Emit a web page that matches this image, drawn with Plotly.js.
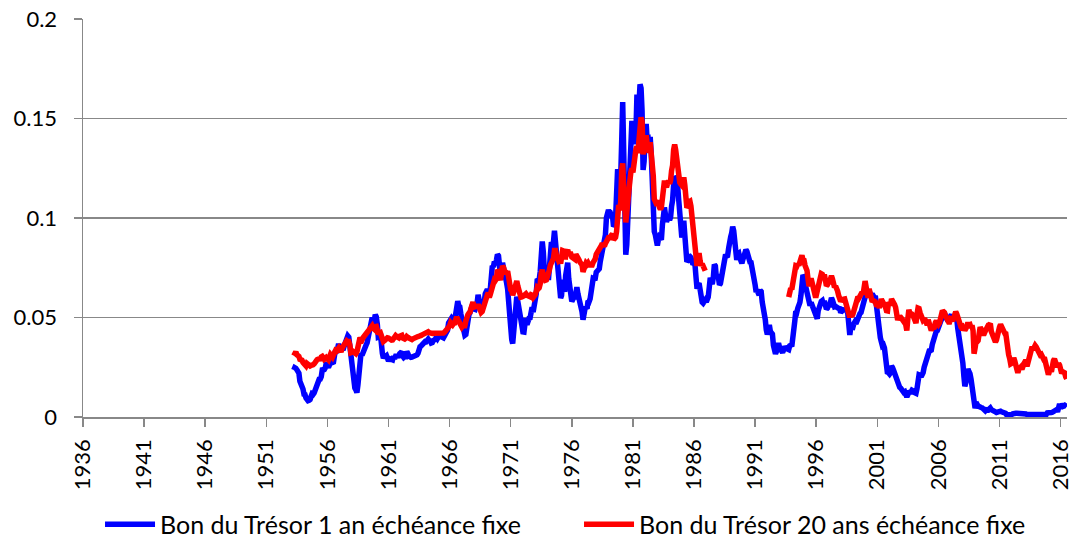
<!DOCTYPE html>
<html><head><meta charset="utf-8">
<script src="https://cdn.plot.ly/plotly-3.0.1.min.js"></script>
<style>html,body{margin:0;padding:0;background:#fff}#chart{width:1073px;height:538px}</style>
</head><body><div id="chart"></div>
<script>
// Series names (legend)
const seriesNames = ['Bon du Trésor 1 an échéance fixe', 'Bon du Trésor 20 ans échéance fixe'];
// Monthly rates in percent; first month given by the start arrays [year, month]
const start1an = [1953, 4];
const bon1an = [
2.36,2.48,2.45,2.38,2.28,2.20,1.79,1.67,1.66,
1.41,1.14,1.13,0.96,0.85,0.82,0.84,0.88,1.03,1.17,1.14,1.21,
1.39,1.57,1.59,1.75,1.90,1.91,2.02,2.37,2.36,2.39,2.48,2.73,
2.58,2.49,2.61,2.92,2.94,2.74,2.76,3.10,3.35,3.28,3.44,3.68,
3.37,3.38,3.42,3.49,3.48,3.65,3.81,4.01,4.07,4.01,3.57,3.18,
2.65,1.99,1.84,1.45,1.37,1.23,1.61,2.50,3.05,3.19,3.10,3.29,
3.36,3.54,3.61,3.72,3.96,4.07,4.39,4.42,5.00,4.80,4.81,5.14,
5.03,4.66,4.02,4.04,4.21,3.36,3.20,2.95,3.07,3.04,3.08,2.86,
2.81,2.93,2.88,2.88,2.87,3.06,2.92,3.06,3.06,3.05,3.07,3.18,
3.28,3.28,3.06,2.99,3.03,3.03,3.29,3.20,3.06,2.98,3.00,3.01,
3.04,3.01,3.03,3.11,3.12,3.20,3.48,3.53,3.57,3.64,3.74,3.81,
3.79,3.78,3.91,3.91,3.84,3.83,3.72,3.74,3.84,3.86,3.91,4.02,
3.94,4.03,4.06,4.04,4.03,3.99,3.98,4.07,4.20,4.30,4.37,4.72,
4.88,4.94,4.97,4.90,4.93,4.97,5.17,5.54,5.82,5.58,5.54,5.20,
4.75,4.71,4.35,4.11,4.15,4.48,5.01,5.13,5.24,5.37,5.61,5.71,
5.43,5.41,5.58,5.71,6.14,5.98,5.65,5.43,5.45,5.57,5.75,6.19,
6.34,6.41,6.34,6.26,6.42,7.04,7.60,7.54,7.82,7.64,7.89,8.17,
8.10,7.59,6.97,7.06,7.75,7.55,7.10,6.98,6.73,6.43,5.51,5.00,
4.57,3.89,3.69,4.30,5.04,5.64,6.04,5.80,5.41,4.91,4.67,4.60,
4.28,4.27,4.67,4.96,4.64,4.93,4.96,4.98,5.52,5.52,5.27,5.52,
5.89,6.19,6.85,6.85,6.89,7.31,8.39,8.82,8.31,7.40,7.57,7.27,
7.42,6.88,7.76,8.62,8.78,8.67,8.80,9.36,8.87,8.05,7.66,7.31,
6.83,5.98,6.11,6.90,6.39,6.29,7.11,7.70,7.75,6.95,6.49,6.60,
5.81,5.91,6.21,5.92,6.40,6.52,6.20,6.00,5.84,5.50,5.29,4.89,
5.29,5.47,5.50,5.44,5.84,5.80,5.94,6.37,6.53,6.97,6.95,6.96,
7.28,7.34,7.31,7.45,7.82,8.09,8.39,8.31,8.64,9.14,10.01,10.30,
10.41,10.24,10.25,10.12,10.12,9.57,9.64,9.98,10.84,12.44,12.39,11.98,
12.06,13.92,15.82,13.30,9.39,8.16,8.65,10.24,11.52,12.49,14.15,14.88,
14.08,14.57,13.71,14.32,16.20,14.86,15.72,16.72,16.52,15.38,12.41,12.85,
14.32,14.73,13.95,13.98,13.34,14.07,13.24,11.43,10.85,9.32,9.16,8.91,
8.62,8.92,9.04,8.98,8.90,9.66,10.20,10.53,10.16,9.81,9.94,10.11,
9.90,10.04,10.59,10.90,11.66,12.08,12.03,11.82,11.58,10.90,9.82,9.33,
9.02,9.29,9.86,9.14,8.46,7.80,7.86,8.05,8.07,8.01,7.88,7.67,
7.73,7.61,7.03,6.44,6.65,6.73,6.27,5.93,5.77,5.72,5.80,5.87,
5.78,5.96,6.03,6.50,7.00,6.80,6.68,7.03,7.67,7.59,6.96,7.17,
6.99,6.64,6.71,7.01,7.40,7.49,7.75,8.17,8.09,8.11,8.48,8.99,
9.05,9.25,9.57,9.36,8.98,8.44,7.89,8.18,8.22,7.99,7.77,7.72,
7.92,8.11,8.35,8.40,8.32,8.10,7.94,7.78,7.76,7.55,7.31,7.05,
6.64,6.27,6.40,6.24,6.13,6.36,6.31,5.78,5.57,5.33,4.89,4.38,
4.15,4.29,4.63,4.30,4.19,4.17,3.60,3.47,3.18,3.30,3.68,3.71,
3.50,3.39,3.33,3.24,3.36,3.54,3.47,3.44,3.36,3.39,3.58,3.61,
3.54,3.87,4.32,4.82,5.31,5.27,5.48,5.56,5.76,6.11,6.54,7.14,
7.05,6.70,6.43,6.27,6.00,5.64,5.59,5.75,5.62,5.59,5.43,5.31,
5.09,4.94,5.34,5.54,5.64,5.81,5.85,5.67,5.83,5.55,5.42,5.47,
5.61,5.53,5.80,5.99,5.87,5.69,5.54,5.56,5.52,5.46,5.46,5.53,
5.24,5.31,5.39,5.38,5.44,5.41,5.36,5.21,4.71,4.12,4.53,4.52,
4.51,4.70,4.78,4.69,4.85,5.10,5.03,5.20,5.25,5.43,5.55,5.84,
6.12,6.22,6.22,6.15,6.33,6.17,6.08,6.18,6.13,6.01,6.09,5.60,
4.81,4.68,4.30,3.98,3.78,3.58,3.62,3.47,2.82,2.33,2.18,2.22,
2.16,2.23,2.57,2.48,2.35,2.20,1.96,1.76,1.72,1.65,1.49,1.45,
1.36,1.30,1.24,1.27,1.18,1.01,1.12,1.31,1.24,1.25,1.34,1.31,
1.24,1.24,1.19,1.43,1.78,2.12,2.10,2.02,2.12,2.23,2.50,2.67,
2.86,3.03,3.30,3.32,3.33,3.36,3.64,3.87,3.85,4.18,4.33,4.35,
4.45,4.68,4.77,4.90,5.00,5.16,5.22,5.08,4.97,5.01,5.01,4.94,
5.06,5.05,4.92,4.93,4.91,4.96,4.96,4.47,4.14,4.10,3.50,3.26,
2.71,2.05,1.54,1.74,2.06,2.42,2.28,2.18,1.91,1.42,1.07,0.49,
0.44,0.62,0.64,0.55,0.50,0.51,0.48,0.46,0.40,0.37,0.31,0.37,
0.35,0.35,0.40,0.45,0.37,0.32,0.29,0.26,0.26,0.23,0.25,0.29,
0.27,0.29,0.26,0.25,0.19,0.18,0.19,0.11,0.10,0.11,0.11,0.12,
0.12,0.16,0.19,0.18,0.19,0.19,0.19,0.18,0.18,0.18,0.18,0.16,
0.15,0.16,0.15,0.12,0.12,0.14,0.12,0.13,0.12,0.12,0.12,0.13,
0.12,0.12,0.13,0.11,0.10,0.10,0.11,0.11,0.11,0.10,0.13,0.21,
0.20,0.22,0.25,0.23,0.24,0.28,0.30,0.38,0.37,0.26,0.48,0.65,
0.54,0.53,0.66,0.56,0.59,0.55,0.51
];
// 20-year series: first segment (1953-04 .. 1986-12), second segment (1993-10 .. 2016-07)
const start20a = [1953, 4];
const bon20a = [
3.08,3.18,3.27,3.13,3.11,3.05,2.90,2.91,2.86,
2.74,2.64,2.62,2.57,2.69,2.64,2.54,2.57,2.60,2.60,2.63,2.67,
2.80,2.87,2.88,2.91,2.89,2.92,3.02,3.05,2.98,2.89,2.92,2.98,
2.92,2.87,3.00,3.14,3.08,3.01,3.12,3.30,3.35,3.32,3.44,3.46,
3.35,3.36,3.36,3.51,3.60,3.76,3.83,3.83,3.79,3.79,3.63,3.23,
3.25,3.30,3.26,3.14,3.18,3.27,3.49,3.83,3.99,3.91,3.87,3.98,
4.05,4.06,4.09,4.19,4.23,4.31,4.35,4.43,4.58,4.47,4.42,4.54,
4.55,4.36,4.16,4.22,4.24,4.08,3.91,3.79,3.83,3.90,3.94,3.98,
3.97,3.91,3.87,3.86,3.87,3.97,4.03,4.09,4.04,4.01,3.98,4.06,
4.12,4.10,3.97,3.90,3.92,3.96,4.04,4.00,3.97,3.94,3.91,3.89,
3.93,3.97,3.99,4.02,4.03,4.04,4.06,4.06,4.10,4.13,4.16,4.19,
4.22,4.21,4.26,4.28,4.24,4.21,4.20,4.20,4.21,4.21,4.19,4.21,
4.20,4.19,4.20,4.20,4.21,4.22,4.22,4.26,4.31,4.35,4.42,4.53,
4.58,4.74,4.67,4.63,4.70,4.72,4.89,5.02,4.91,4.78,4.73,4.63,
4.52,4.59,4.55,4.59,4.83,5.08,5.14,5.22,5.26,5.45,5.68,5.78,
5.52,5.46,5.64,5.52,5.66,5.51,5.33,5.25,5.30,5.47,5.66,5.99,
6.06,6.13,6.24,6.02,6.16,6.34,6.42,6.53,6.90,6.86,6.94,7.40,
7.31,7.01,6.88,7.22,7.60,7.51,7.33,7.28,7.25,7.33,6.88,6.59,
6.39,6.33,6.12,6.29,6.50,6.69,6.83,6.58,6.28,6.08,6.02,6.03,
6.04,6.09,6.14,6.19,6.12,6.10,6.07,6.05,6.14,6.12,6.01,6.04,
6.15,6.30,6.49,6.44,6.49,6.70,7.21,7.40,7.12,6.86,6.87,6.89,
7.05,7.05,7.38,7.63,7.79,7.81,7.96,8.37,8.37,8.10,7.97,7.85,
7.90,7.71,8.02,8.36,8.34,8.06,8.05,8.30,8.40,8.21,8.21,8.20,
8.04,8.01,7.98,7.93,8.18,8.11,8.03,7.90,7.78,7.70,7.64,7.30,
7.48,7.64,7.73,7.67,7.74,7.64,7.64,7.68,7.64,7.77,7.85,7.94,
8.18,8.25,8.30,8.37,8.50,8.61,8.72,8.57,8.57,8.72,8.82,8.98,
9.01,9.01,9.10,9.19,9.20,8.90,8.95,9.03,9.33,10.30,10.65,10.39,
10.80,12.41,12.75,11.47,10.18,9.78,10.25,11.10,11.60,11.86,12.31,12.49,
12.29,12.98,12.94,13.46,13.60,13.26,13.92,14.52,15.06,14.86,13.20,13.54,
14.07,14.16,13.73,13.46,13.28,13.81,13.36,12.60,12.13,10.95,10.72,10.72,
10.73,10.88,10.55,10.44,10.53,11.02,11.46,11.88,11.67,11.54,11.73,11.87,
11.72,11.89,12.38,12.65,13.43,13.69,13.43,12.81,12.55,12.30,11.78,11.70,
11.64,11.75,12.04,11.65,11.09,10.51,10.60,10.81,10.84,10.59,10.08,9.60,
9.51,9.07,8.13,7.59,8.02,8.23,7.86,7.60,7.70,7.60,7.45,7.35
];
const start20b = [1993, 10];
const bon20b = [
6.02,6.44,6.48,
6.41,6.71,7.17,7.44,7.60,7.58,7.70,7.62,7.80,8.05,8.12,7.90,
7.88,7.62,7.48,7.36,6.94,6.58,6.71,6.97,6.71,6.48,6.31,6.11,
6.11,6.38,6.74,6.93,7.07,7.20,7.17,6.99,7.16,6.89,6.59,6.64,
6.82,6.69,6.93,7.09,6.94,6.77,6.51,6.58,6.50,6.33,6.11,5.99,
5.81,5.89,5.95,5.92,5.93,5.70,5.68,5.54,5.20,5.01,5.25,5.06,
5.16,5.37,5.58,5.55,5.81,6.04,5.98,6.07,6.07,6.26,6.15,6.35,
6.83,6.53,6.26,5.99,6.44,6.10,5.99,5.79,5.85,5.83,5.79,5.64,
5.65,5.62,5.49,5.78,5.92,5.82,5.75,5.58,5.53,5.34,5.33,5.76,
5.69,5.61,5.93,5.85,5.81,5.65,5.51,5.19,4.87,5.00,5.04,5.01,
4.94,4.81,4.80,4.91,4.52,4.34,4.92,5.39,5.21,5.21,5.17,5.11,
5.01,4.94,4.72,5.16,5.47,5.45,5.24,5.07,4.89,4.85,4.89,4.88,
4.77,4.61,4.89,4.75,4.56,4.35,4.48,4.53,4.51,4.74,4.83,4.73,
4.65,4.73,4.91,5.22,5.35,5.29,5.25,5.08,4.93,4.94,4.78,4.78,
4.95,4.93,4.81,4.95,4.98,5.29,5.19,5.00,4.84,4.83,4.56,4.57,
4.35,4.49,4.36,4.44,4.60,4.74,4.62,4.64,4.49,4.61,4.34,3.18,
3.46,3.83,3.78,3.84,4.22,4.52,4.41,4.37,4.19,4.19,4.31,4.49,
4.60,4.62,4.64,4.69,4.29,4.13,3.99,3.80,3.77,3.87,4.19,4.42,
4.52,4.65,4.51,4.50,4.29,4.23,4.27,3.65,3.18,3.13,2.94,2.67,
2.70,2.75,2.97,2.81,2.55,2.33,2.22,2.40,2.49,2.51,2.39,2.47,
2.68,2.78,2.78,2.55,2.73,3.07,3.31,3.49,3.53,3.38,3.50,3.59,
3.52,3.38,3.35,3.27,3.12,3.15,3.07,2.94,2.99,2.76,2.76,2.47,
2.13,2.28,2.37,2.27,2.71,2.83,2.92,2.65,2.62,2.52,2.69,2.61,
2.49,2.20,2.28,2.21,2.22,2.02,1.92
];

function monthDates(start, n) {
  const out = [];
  const base = start[0] * 12 + (start[1] - 1);
  for (let i = 0; i < n; i++) {
    const t = base + i;
    const yy = Math.floor(t / 12), mm = (t % 12) + 1;
    out.push(yy + '-' + String(mm).padStart(2, '0') + '-01');
  }
  return out;
}
const pct = v => (v === null ? null : v / 100);

const x1 = monthDates(start1an, bon1an.length);
const xa = monthDates(start20a, bon20a.length);
const xb = monthDates(start20b, bon20b.length);
const x20 = xa.concat(['1987-01-01'], xb);
const y20 = bon20a.map(pct).concat([null], bon20b.map(pct));

const traces = [
  {x: x1, y: bon1an.map(pct), name: seriesNames[0], type: 'scatter', mode: 'lines',
   line: {color: '#0000FF', width: 5.5}},
  {x: x20, y: y20, name: seriesNames[1], type: 'scatter', mode: 'lines', connectgaps: false,
   line: {color: '#FF0000', width: 5.5}}
];

const layout = {
  width: 1073, height: 538,
  margin: {l: 83, r: 6, t: 19, b: 121, autoexpand: false},
  paper_bgcolor: '#ffffff', plot_bgcolor: '#ffffff',
  font: {family: 'Lato, sans-serif', size: 22, color: '#000000'},
  showlegend: true,
  legend: {orientation: 'h', x: 0.0173, xanchor: 'left', xref: 'paper',
           y: -0.27, yanchor: 'middle', font: {size: 25}, itemwidth: 50,
           entrywidth: 414, entrywidthmode: 'pixels',
           bgcolor: 'rgba(0,0,0,0)', traceorder: 'normal'},
  xaxis: {type: 'date', range: ['1936-01-01', '2016-07-10'], tick0: '1936-01-01', dtick: 'M60',
          tickformat: '%Y', tickangle: -90, ticks: 'outside', ticklen: 8, tickwidth: 1.5,
          tickcolor: '#888888', showline: true, linecolor: '#888888', linewidth: 1.5,
          showgrid: false, zeroline: false, ticklabelstandoff: 4, fixedrange: true},
  yaxis: {range: [0, 0.2], tick0: 0, dtick: 0.05, ticks: 'outside', ticklen: 8, tickwidth: 1.5,
          tickcolor: '#888888', showline: true, linecolor: '#888888', linewidth: 1.5,
          showgrid: true, gridcolor: '#888888', gridwidth: 1.5, zeroline: false,
          ticklabelstandoff: 12, fixedrange: true}
};

Plotly.newPlot('chart', traces, layout, {staticPlot: true, displayModeBar: false});
</script>
</body></html>
